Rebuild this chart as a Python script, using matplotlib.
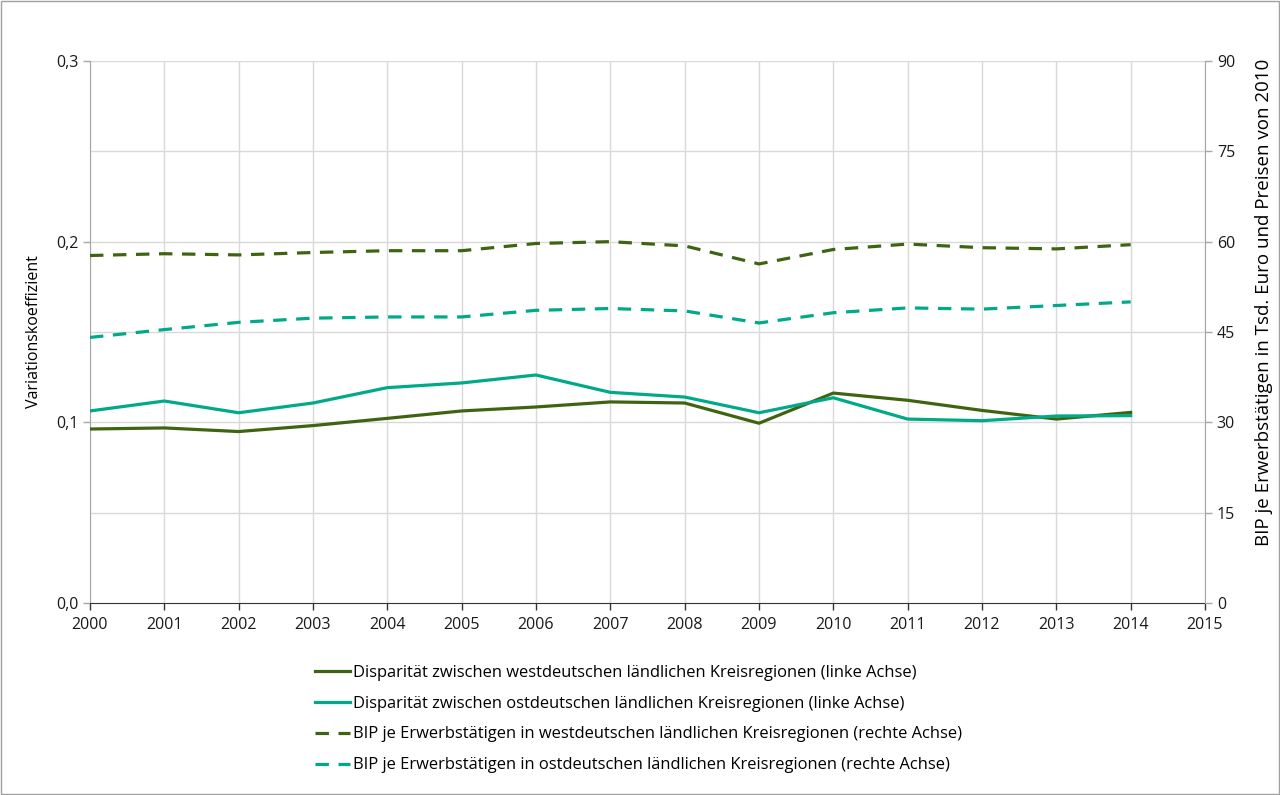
import matplotlib
matplotlib.use("Agg")
from matplotlib import pyplot as plt
from matplotlib.patches import Rectangle
from matplotlib.ticker import FuncFormatter, MultipleLocator

years = list(range(2000, 2015))

# Variationskoeffizient (linke Achse)
disp_west = [0.0963, 0.0969, 0.0949, 0.0982, 0.1022, 0.1063, 0.1085, 0.1113, 0.1107,
             0.0995, 0.1162, 0.1122, 0.1066, 0.1018, 0.1055]
disp_ost = [0.1063, 0.1118, 0.1053, 0.1107, 0.1192, 0.1218, 0.1262, 0.1166, 0.1140,
            0.1053, 0.1136, 0.1018, 0.1009, 0.1035, 0.1037]

# BIP je Erwerbstaetigen in Tsd. Euro (rechte Achse)
bip_west = [57.7, 58.0, 57.8, 58.2, 58.5, 58.5, 59.7, 60.0, 59.3,
            56.3, 58.7, 59.6, 59.0, 58.8, 59.5]
bip_ost = [44.1, 45.4, 46.6, 47.3, 47.5, 47.5, 48.6, 48.9, 48.5,
           46.5, 48.2, 49.0, 48.8, 49.4, 50.0]

labels = ["Disparität zwischen westdeutschen ländlichen Kreisregionen (linke Achse)",
          "Disparität zwischen ostdeutschen ländlichen Kreisregionen (linke Achse)",
          "BIP je Erwerbstätigen in westdeutschen ländlichen Kreisregionen (rechte Achse)",
          "BIP je Erwerbstätigen in ostdeutschen ländlichen Kreisregionen (rechte Achse)"]

dark = "#3f6411"
teal = "#00aa88"
grid_c = "#d9d9d9"
axis_c = "#a6a6a6"

plt.rcParams.update({"font.family": ["Open Sans", "DejaVu Sans"], "font.size": 11})

fig = plt.figure(figsize=(12.8, 7.95), dpi=100)
fig.patches.append(Rectangle((0.001, 0.001), 0.998, 0.998, transform=fig.transFigure,
                             fill=False, edgecolor="#a0a0a0", linewidth=1))
ax = fig.add_axes([90 / 1280, 1 - 603 / 795, (1205 - 90) / 1280, (603 - 61) / 795])
ax2 = ax.twinx()

ax.set_xlim(2000, 2015)
ax.set_ylim(0, 0.3)
ax2.set_ylim(0, 90)

ax.xaxis.set_major_locator(MultipleLocator(1))
ax.yaxis.set_major_locator(MultipleLocator(0.1))
ax2.yaxis.set_major_locator(MultipleLocator(15))
ax.yaxis.set_major_formatter(FuncFormatter(lambda v, p: f"{v:.1f}".replace(".", ",")))

# gridlines
ax.set_axisbelow(True)
for x in years + [2015]:
    ax.axvline(x, color=grid_c, lw=1, zorder=0)
for v in range(15, 91, 15):
    ax.axhline(v / 300, color=grid_c, lw=1, zorder=0)

l1, = ax.plot(years, disp_west, color=dark, lw=2.3, zorder=3)
l2, = ax.plot(years, disp_ost, color=teal, lw=2.3, zorder=3)
l3, = ax2.plot(years, bip_west, color=dark, lw=2.3, dashes=(4.2, 3.0), zorder=3)
l4, = ax2.plot(years, bip_ost, color=teal, lw=2.3, dashes=(4.2, 3.0), zorder=3)

for a in (ax, ax2):
    a.spines["top"].set_visible(False)
    for s in ("left", "right"):
        a.spines[s].set_color(axis_c)
    a.tick_params(colors="#1a1a1a", length=5, width=1, color=axis_c, labelsize=11.5)
ax.spines["right"].set_visible(False)
ax2.spines["left"].set_visible(False)
ax2.spines["bottom"].set_visible(False)
ax.spines["bottom"].set_color("#333333")
ax.tick_params(axis="x", pad=5, color="#333333")

ax.set_ylabel("Variationskoeffizient", fontsize=11.5, labelpad=10)
ax2.set_ylabel("BIP je Erwerbstätigen in Tsd. Euro und Preisen von 2010", fontsize=13.5, labelpad=10)
ax2.yaxis.set_label_coords(1.045, 0.555)

fig.legend([l1, l2, l3, l4], labels, loc="center left", bbox_to_anchor=(300 / 1280, 1 - 719 / 795),
           frameon=False, handlelength=2.1, handletextpad=0.2, labelspacing=0.9, fontsize=11.9)

fig.savefig("out.png", dpi=100)
